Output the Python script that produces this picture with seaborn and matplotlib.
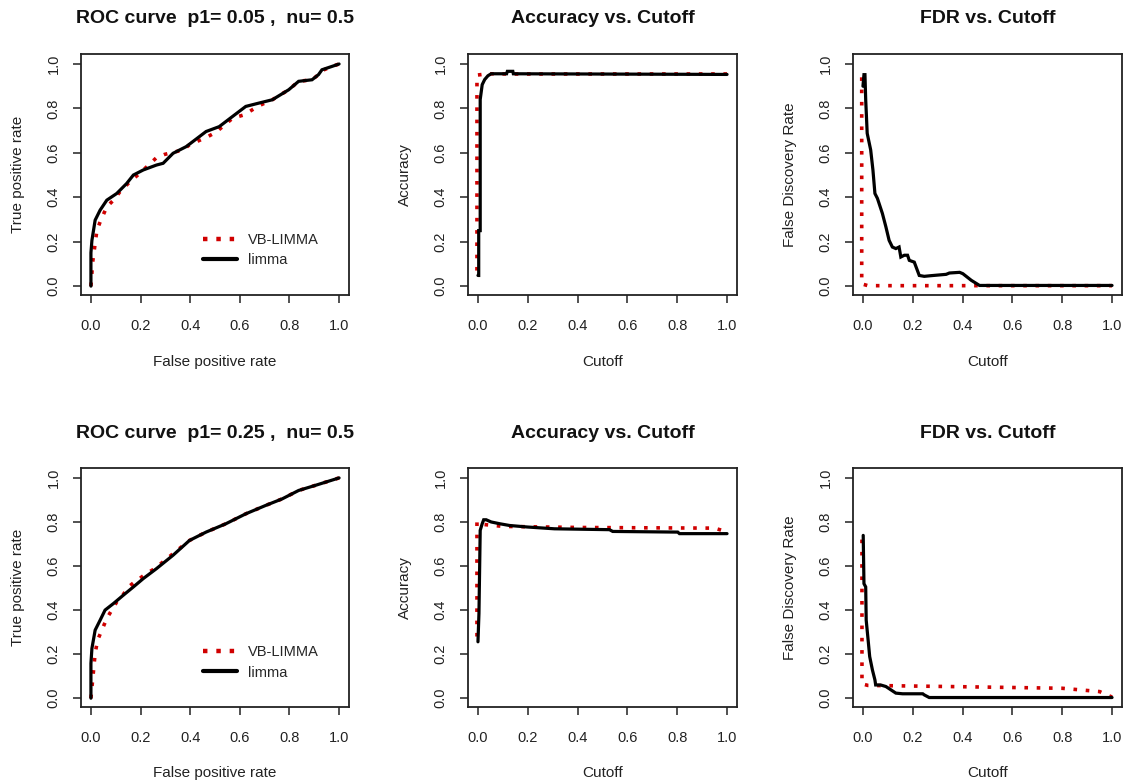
import numpy as np
import pandas as pd
import matplotlib
matplotlib.use("Agg")
import matplotlib.pyplot as plt
import seaborn as sns

# ---------------------------------------------------------------- data
# Row 1: p1 = 0.05, nu = 0.5
roc1_limma_fpr = [0.0, 0.0, 0.004, 0.017, 0.037, 0.064, 0.104, 0.144, 0.171, 0.211,
                  0.264, 0.291, 0.331, 0.384, 0.437, 0.464, 0.517, 0.571, 0.624,
                  0.677, 0.731, 0.797, 0.837, 0.891, 0.917, 0.931, 0.971, 1.0]
roc1_limma_tpr = [0.0, 0.15, 0.206, 0.297, 0.342, 0.387, 0.417, 0.462, 0.50, 0.523,
                  0.545, 0.553, 0.598, 0.628, 0.673, 0.696, 0.718, 0.764, 0.809,
                  0.824, 0.839, 0.884, 0.922, 0.929, 0.952, 0.974, 0.989, 1.0]
roc1_vb_fpr = [0.0, 0.007, 0.024, 0.037, 0.064, 0.091, 0.117, 0.157, 0.197, 0.264,
               0.297, 0.371, 0.397, 0.471, 0.504, 0.571, 0.617, 0.677, 0.731,
               0.797, 0.837, 0.891, 0.917, 0.931, 0.971, 1.0]
roc1_vb_tpr = [0.0, 0.108, 0.25, 0.289, 0.357, 0.387, 0.425, 0.47, 0.508, 0.578,
               0.593, 0.613, 0.636, 0.673, 0.693, 0.756, 0.771, 0.812, 0.839,
               0.884, 0.922, 0.929, 0.952, 0.97, 0.989, 1.0]

acc1_limma_cut = [0.0, 0.003, 0.003, 0.009, 0.009, 0.017, 0.027, 0.04, 0.053, 0.115,
                  0.118, 0.14, 0.142, 1.0]
acc1_limma_acc = [0.048, 0.048, 0.25, 0.25, 0.84, 0.907, 0.93, 0.947, 0.956, 0.956,
                  0.967, 0.967, 0.956, 0.953]
acc1_vb_cut = [-0.004, -0.004, 0.04, 0.13, 1.0]
acc1_vb_acc = [0.07, 0.95, 0.956, 0.955, 0.955]

fdr1_limma_cut = [0.0, 0.004, 0.008, 0.011, 0.017, 0.031, 0.04, 0.048, 0.058, 0.078,
                  0.092, 0.105, 0.118, 0.132, 0.145, 0.152, 0.166, 0.179, 0.186,
                  0.206, 0.226, 0.246, 0.273, 0.334, 0.347, 0.388, 0.401, 0.435,
                  0.468, 1.0]
fdr1_limma_fdr = [0.90, 0.952, 0.952, 0.839, 0.688, 0.613, 0.523, 0.417, 0.395, 0.327,
                  0.267, 0.206, 0.176, 0.169, 0.176, 0.131, 0.139, 0.139, 0.116,
                  0.108, 0.048, 0.044, 0.047, 0.053, 0.059, 0.062, 0.056, 0.026,
                  0.003, 0.003]
fdr1_vb_cut = [-0.005, -0.005, 0.02, 0.47, 1.0]
fdr1_vb_fdr = [0.94, 0.01, 0.002, 0.002, 0.002]

# Row 2: p1 = 0.25, nu = 0.5
roc2_limma_fpr = [0.0, 0.0, 0.004, 0.017, 0.037, 0.057, 0.091, 0.131, 0.171, 0.211,
                  0.264, 0.331, 0.397, 0.464, 0.544, 0.624, 0.704, 0.771, 0.837,
                  0.904, 1.0]
roc2_limma_tpr = [0.0, 0.158, 0.226, 0.309, 0.354, 0.40, 0.43, 0.468, 0.505, 0.543,
                  0.588, 0.649, 0.716, 0.754, 0.792, 0.837, 0.875, 0.905, 0.943,
                  0.966, 1.0]
roc2_vb_fpr = [0.0, 0.017, 0.027, 0.044, 0.064, 0.084, 0.104, 0.124, 0.151, 0.171,
               0.224, 0.257, 0.331, 0.397, 0.464, 0.544, 0.624, 0.704, 0.771,
               0.837, 0.904, 1.0]
roc2_vb_tpr = [0.0, 0.204, 0.264, 0.309, 0.362, 0.40, 0.437, 0.46, 0.505, 0.523,
               0.566, 0.588, 0.656, 0.716, 0.754, 0.792, 0.837, 0.875, 0.905,
               0.943, 0.966, 1.0]

acc2_limma_cut = [0.0, 0.004, 0.009, 0.017, 0.023, 0.033, 0.053, 0.087, 0.127, 0.20,
                  0.307, 0.528, 0.541, 0.802, 0.809, 1.0]
acc2_limma_acc = [0.256, 0.385, 0.762, 0.792, 0.81, 0.81, 0.80, 0.792, 0.784, 0.777,
                  0.769, 0.765, 0.757, 0.754, 0.747, 0.747]
acc2_vb_cut = [-0.004, -0.004, 0.01, 0.10, 0.40, 0.95, 1.0]
acc2_vb_acc = [0.28, 0.80, 0.79, 0.78, 0.775, 0.772, 0.755]

fdr2_limma_cut = [0.001, 0.004, 0.011, 0.013, 0.022, 0.027, 0.038, 0.048, 0.051, 0.071,
                  0.092, 0.112, 0.132, 0.159, 0.24, 0.246, 0.266, 1.0]
fdr2_limma_fdr = [0.739, 0.52, 0.505, 0.354, 0.249, 0.189, 0.128, 0.083, 0.06, 0.06,
                  0.053, 0.038, 0.023, 0.02, 0.02, 0.015, 0.003, 0.003]
fdr2_vb_cut = [-0.004, -0.004, 0.02, 0.40, 0.80, 0.95, 1.0]
fdr2_vb_fdr = [0.72, 0.065, 0.058, 0.052, 0.045, 0.03, 0.005]

ticks = [0.0, 0.2, 0.4, 0.6, 0.8, 1.0]
tick_labels = ["0.0", "0.2", "0.4", "0.6", "0.8", "1.0"]
series_names = ["VB-LIMMA", "limma"]

# ---------------------------------------------------------------- style
sns.set_theme(style="ticks")
plt.rcParams["font.family"] = ["Liberation Sans", "DejaVu Sans"]

RED = "#D00000"
BLACK = "#000000"
W, H = 1125, 783
fig = plt.figure(figsize=(W / 100, H / 100), dpi=100)
fig.patch.set_facecolor("white")

# axes boxes in pixels (left, top, right, bottom)
col_lr = [(81, 349), (468, 737), (853, 1122)]
row_tb = [(54, 295), (468, 707)]


def make_axes(col, row):
    l, r = col_lr[col]
    t, b = row_tb[row]
    return fig.add_axes([l / W, 1 - b / H, (r - l) / W, (b - t) / H])


def draw_series(ax, vb_x, vb_y, li_x, li_y):
    df = pd.concat([
        pd.DataFrame({"x": vb_x, "y": vb_y, "method": series_names[0]}),
        pd.DataFrame({"x": li_x, "y": li_y, "method": series_names[1]}),
    ], ignore_index=True)
    # VB-LIMMA first (dotted red), limma drawn over it (solid black)
    sns.lineplot(data=df[df.method == series_names[0]], x="x", y="y",
                 sort=False, estimator=None, color=RED, lw=2.6, ax=ax,
                 legend=False, zorder=2, linestyle=(0, (1.0, 2.4)))
    sns.lineplot(data=df[df.method == series_names[1]], x="x", y="y",
                 sort=False, estimator=None, color=BLACK, lw=2.3, ax=ax,
                 legend=False, zorder=3, solid_joinstyle="miter")


def style_axes(ax, title, xlabel, ylabel):
    ax.set_xlim(-0.04, 1.04)
    ax.set_ylim(-0.04, 1.045)
    ax.set_xticks(ticks)
    ax.set_yticks(ticks)
    ax.set_xticklabels(tick_labels)
    ax.set_yticklabels(tick_labels, rotation=90, va="center")
    for s in ax.spines.values():
        s.set_visible(True)
        s.set_color("#222222")
        s.set_linewidth(1.3)
    ax.tick_params(axis="both", direction="out", length=5.5, width=1.1,
                   color="#222222", labelsize=10.5, labelcolor="#222222")
    ax.tick_params(axis="x", pad=11.5)
    ax.tick_params(axis="y", pad=9)
    ax.set_xlabel(xlabel, fontsize=11, color="#222222")
    ax.set_ylabel(ylabel, fontsize=11, color="#222222")
    ax.xaxis.label.set_va("center")
    ax.yaxis.label.set_va("center")
    ax.xaxis.set_label_coords(0.5, -67 / 241)
    ax.yaxis.set_label_coords(-63 / 268, 0.5)
    ax.text(0.5, 1 + 35 / 241, title, transform=ax.transAxes, ha="center",
            va="center", fontsize=14, fontweight="bold", color="#111111")
    ax.set_facecolor("white")
    ax.grid(False)


def add_legend(ax):
    handles = [
        plt.Line2D([], [], color=RED, lw=3.2, linestyle=(0, (1.0, 2.0))),
        plt.Line2D([], [], color=BLACK, lw=3.0),
    ]
    ax.legend(handles, series_names, loc="center left",
              bbox_to_anchor=(122 / 268, 0.187), frameon=False,
              borderpad=0, borderaxespad=0, handlelength=2.3,
              handletextpad=0.8, labelspacing=0.45, fontsize=10.5)


panels = [
    (0, 0, roc1_vb_fpr, roc1_vb_tpr, roc1_limma_fpr, roc1_limma_tpr,
     "ROC curve  p1= 0.05 ,  nu= 0.5", "False positive rate", "True positive rate", True),
    (1, 0, acc1_vb_cut, acc1_vb_acc, acc1_limma_cut, acc1_limma_acc,
     "Accuracy vs. Cutoff", "Cutoff", "Accuracy", False),
    (2, 0, fdr1_vb_cut, fdr1_vb_fdr, fdr1_limma_cut, fdr1_limma_fdr,
     "FDR vs. Cutoff", "Cutoff", "False Discovery Rate", False),
    (0, 1, roc2_vb_fpr, roc2_vb_tpr, roc2_limma_fpr, roc2_limma_tpr,
     "ROC curve  p1= 0.25 ,  nu= 0.5", "False positive rate", "True positive rate", True),
    (1, 1, acc2_vb_cut, acc2_vb_acc, acc2_limma_cut, acc2_limma_acc,
     "Accuracy vs. Cutoff", "Cutoff", "Accuracy", False),
    (2, 1, fdr2_vb_cut, fdr2_vb_fdr, fdr2_limma_cut, fdr2_limma_fdr,
     "FDR vs. Cutoff", "Cutoff", "False Discovery Rate", False),
]

for col, row, vx, vy, lx, ly, title, xl, yl, with_legend in panels:
    ax = make_axes(col, row)
    draw_series(ax, vx, vy, lx, ly)
    style_axes(ax, title, xl, yl)
    if with_legend:
        add_legend(ax)

fig.savefig("out.png", dpi=100, facecolor="white")
